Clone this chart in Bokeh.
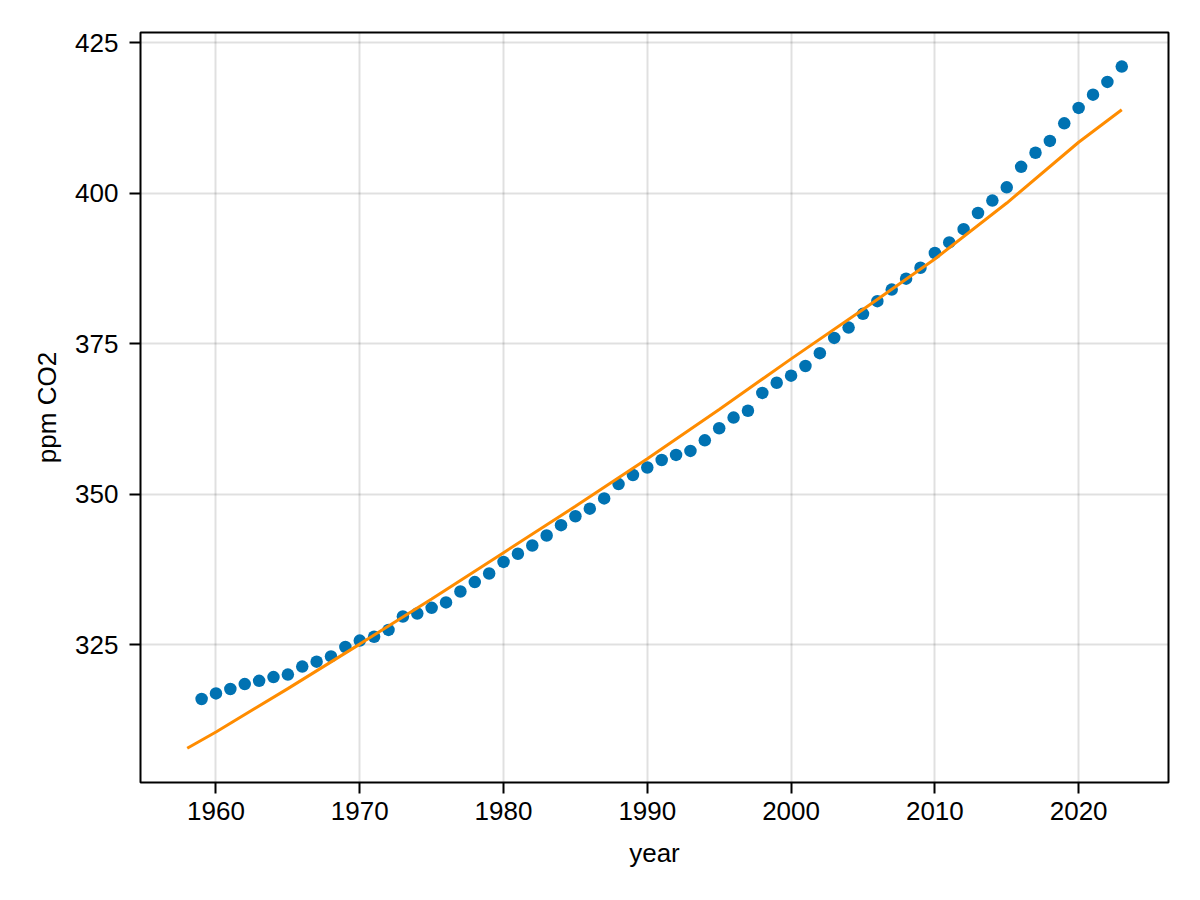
from bokeh.plotting import figure
from bokeh.models import FixedTicker, Range1d, ColumnDataSource
from bokeh.embed import file_html
from bokeh.resources import INLINE

# Annual mean CO2 (ppm), Mauna Loa
years = list(range(1959, 2024))
co2 = [315.98, 316.91, 317.64, 318.45, 318.99, 319.62, 320.04, 321.37, 322.18, 323.05,
       324.62, 325.68, 326.32, 327.46, 329.68, 330.19, 331.13, 332.03, 333.84, 335.41,
       336.84, 338.76, 340.12, 341.48, 343.15, 344.87, 346.35, 347.61, 349.31, 351.69,
       353.20, 354.45, 355.70, 356.54, 357.21, 358.96, 360.97, 362.74, 363.88, 366.84,
       368.54, 369.71, 371.32, 373.45, 375.98, 377.70, 379.98, 382.09, 384.02, 385.83,
       387.64, 390.10, 391.85, 394.06, 396.74, 398.81, 401.01, 404.41, 406.76, 408.72,
       411.65, 414.21, 416.41, 418.53, 421.08]

# Fitted curve
fit_years = [1958, 1960, 1965, 1970, 1975, 1980, 1985, 1990, 1995, 2000, 2005, 2010, 2015, 2020, 2023]
fit_co2 = [307.8, 310.5, 317.7, 325.1, 332.6, 340.3, 348.0, 355.9, 364.1, 372.5, 380.7, 389.1, 398.4, 408.5, 413.9]

x_ticks = [1960, 1970, 1980, 1990, 2000, 2010, 2020]
y_ticks = [325, 350, 375, 400, 425]

FONT = "Liberation Sans"

p = figure(width=1184, height=884, output_backend="svg", toolbar_location=None,
           x_range=Range1d(1954.75, 2026.25), y_range=Range1d(302.1, 426.74),
           min_border_left=140, min_border_top=32, min_border_right=16, min_border_bottom=102)

p.outline_line_color = "black"
p.outline_line_width = 2
p.background_fill_color = "white"
p.border_fill_color = "white"

for g in (p.xgrid[0], p.ygrid[0]):
    g.grid_line_color = "black"
    g.grid_line_alpha = 0.12
    g.grid_line_width = 2

p.xaxis.ticker = FixedTicker(ticks=x_ticks)
p.yaxis.ticker = FixedTicker(ticks=y_ticks)
p.xgrid.ticker = FixedTicker(ticks=x_ticks)
p.ygrid.ticker = FixedTicker(ticks=y_ticks)

for ax in (p.xaxis[0], p.yaxis[0]):
    ax.axis_line_color = None
    ax.major_tick_in = 0
    ax.major_tick_out = 11
    ax.major_tick_line_width = 2
    ax.major_tick_line_color = "black"
    ax.minor_tick_line_color = None
    ax.major_label_text_font = FONT
    ax.major_label_text_font_size = "26px"
    ax.major_label_text_color = "black"
    ax.axis_label_text_font = FONT
    ax.axis_label_text_font_size = "26px"
    ax.axis_label_text_font_style = "normal"
    ax.axis_label_text_color = "black"

p.xaxis.axis_label = "year"
p.yaxis.axis_label = "ppm CO2"
p.xaxis.major_label_standoff = 8
p.yaxis.major_label_standoff = 11
p.xaxis.axis_label_standoff = 15
p.yaxis.axis_label_standoff = 10

pts = ColumnDataSource(dict(x=years, y=co2))
fit = ColumnDataSource(dict(x=fit_years, y=fit_co2))

p.scatter("x", "y", source=pts, size=12.5, fill_color="#0072B2", line_color=None)
p.line("x", "y", source=fit, line_color="#FF8C00", line_width=3)

open("out.html", "w").write(file_html(p, INLINE))
